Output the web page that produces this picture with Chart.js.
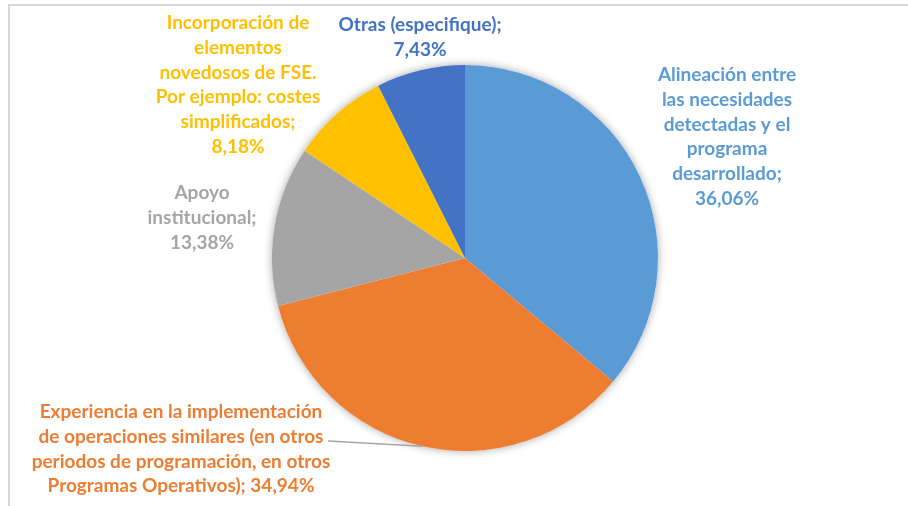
<!DOCTYPE html>
<html>
<head>
<meta charset="utf-8">
<script src="https://cdn.jsdelivr.net/npm/chart.js@4"></script>
<style>
  html, body { margin: 0; padding: 0; background: #fff; }
  #wrap { position: relative; width: 908px; height: 506px; overflow: hidden; }
  #frame { position: absolute; left: 8px; top: 4px; right: 0; bottom: 0;
           border-top: 2px solid #d9d9d9; border-left: 2px solid #d9d9d9; }
  canvas { position: absolute; left: 0; top: 0; }
</style>
</head>
<body>
<div id="wrap">
  <div id="frame"></div>
  <canvas id="pie" width="908" height="506"></canvas>
</div>
<script>
// categorias y valores (%)
const categories = [
    "Alineación entre las necesidades detectadas y el programa desarrollado",
    "Experiencia en la implementación de operaciones similares (en otros periodos de programación, en otros Programas Operativos)",
    "Apoyo institucional",
    "Incorporación de elementos novedosos de FSE. Por ejemplo: costes simplificados",
    "Otras (especifique)"
];
const values = [36.06, 34.94, 13.38, 8.18, 7.43];
const colors = ["#5b9bd5", "#ed7d31", "#a5a5a5", "#ffc000", "#4472c4"];

// como se parten las etiquetas en lineas (igual que en Excel)
const labelLines = [
    ["Alineación entre", "las necesidades", "detectadas y el", "programa", "desarrollado;"],
    ["Experiencia en la implementación", "de operaciones similares (en otros", "periodos de programación, en otros", "Programas Operativos);"],
    ["Apoyo", "institucional;"],
    ["Incorporación de", "elementos", "novedosos de FSE.", "Por ejemplo: costes", "simplificados;"],
    ["Otras (especifique);"]
];

// posicion de cada etiqueta: centro x, y de la primera linea
const labelPos = [
    { x: 727, y: 75 },
    { x: 181, y: 412 },
    { x: 202, y: 193 },
    { x: 238, y: 23 },
    { x: 420, y: 25 }
];
const lineH = 24.7;

function pct(v) {
    return v.toFixed(2).replace(".", ",") + "%";
}

// sombra suave debajo del pastel
const shadowPlugin = {
    id: "pieShadow",
    beforeDatasetsDraw(chart) {
        const arc = chart.getDatasetMeta(0).data[0];
        const ctx = chart.ctx;
        ctx.save();
        ctx.shadowColor = "rgba(0,0,0,0.35)";
        ctx.shadowBlur = 8;
        ctx.fillStyle = "#ffffff";
        ctx.beginPath();
        ctx.arc(arc.x, arc.y, arc.outerRadius, 0, Math.PI * 2);
        ctx.fill();
        ctx.restore();
    }
};

// etiquetas de datos + linea guia de "Experiencia"
const labelPlugin = {
    id: "sliceLabels",
    afterDatasetsDraw(chart) {
        const ctx = chart.ctx;
        const meta = chart.getDatasetMeta(0);
        ctx.save();
        ctx.font = "bold 19px Lato";
        ctx.textAlign = "center";
        ctx.textBaseline = "middle";

        // linea guia
        const arc = meta.data[1];
        const mid = (arc.startAngle + arc.endAngle) / 2;
        const ex = arc.x + Math.cos(mid) * arc.outerRadius;
        const ey = arc.y + Math.sin(mid) * arc.outerRadius;
        ctx.strokeStyle = "#a5a5a5";
        ctx.lineWidth = 1.5;
        ctx.beginPath();
        ctx.moveTo(328, 441);
        ctx.lineTo(ex, ey);
        ctx.stroke();

        values.forEach((v, i) => {
            const lines = labelLines[i].slice();
            const last = lines.length - 1;
            if (i === 1) lines[last] = lines[last] + " " + pct(v);
            else lines.push(pct(v));
            ctx.fillStyle = colors[i];
            lines.forEach((t, j) => {
                ctx.fillText(t, labelPos[i].x, labelPos[i].y + j * lineH);
            });
        });
        ctx.restore();
    }
};

new Chart(document.getElementById("pie"), {
    type: "pie",
    data: {
        labels: categories,
        datasets: [{
            data: values,
            backgroundColor: colors,
            borderWidth: 0,
            hoverOffset: 0,
        }],
    },
    options: {
        responsive: false,
        animation: false,
        events: [],
        layout: { padding: { left: 272, right: 250, top: 65, bottom: 55 } },
        plugins: {
            legend: { display: false },
            tooltip: { enabled: false },
        },
    },
    plugins: [shadowPlugin, labelPlugin],
});
</script>
</body>
</html>
